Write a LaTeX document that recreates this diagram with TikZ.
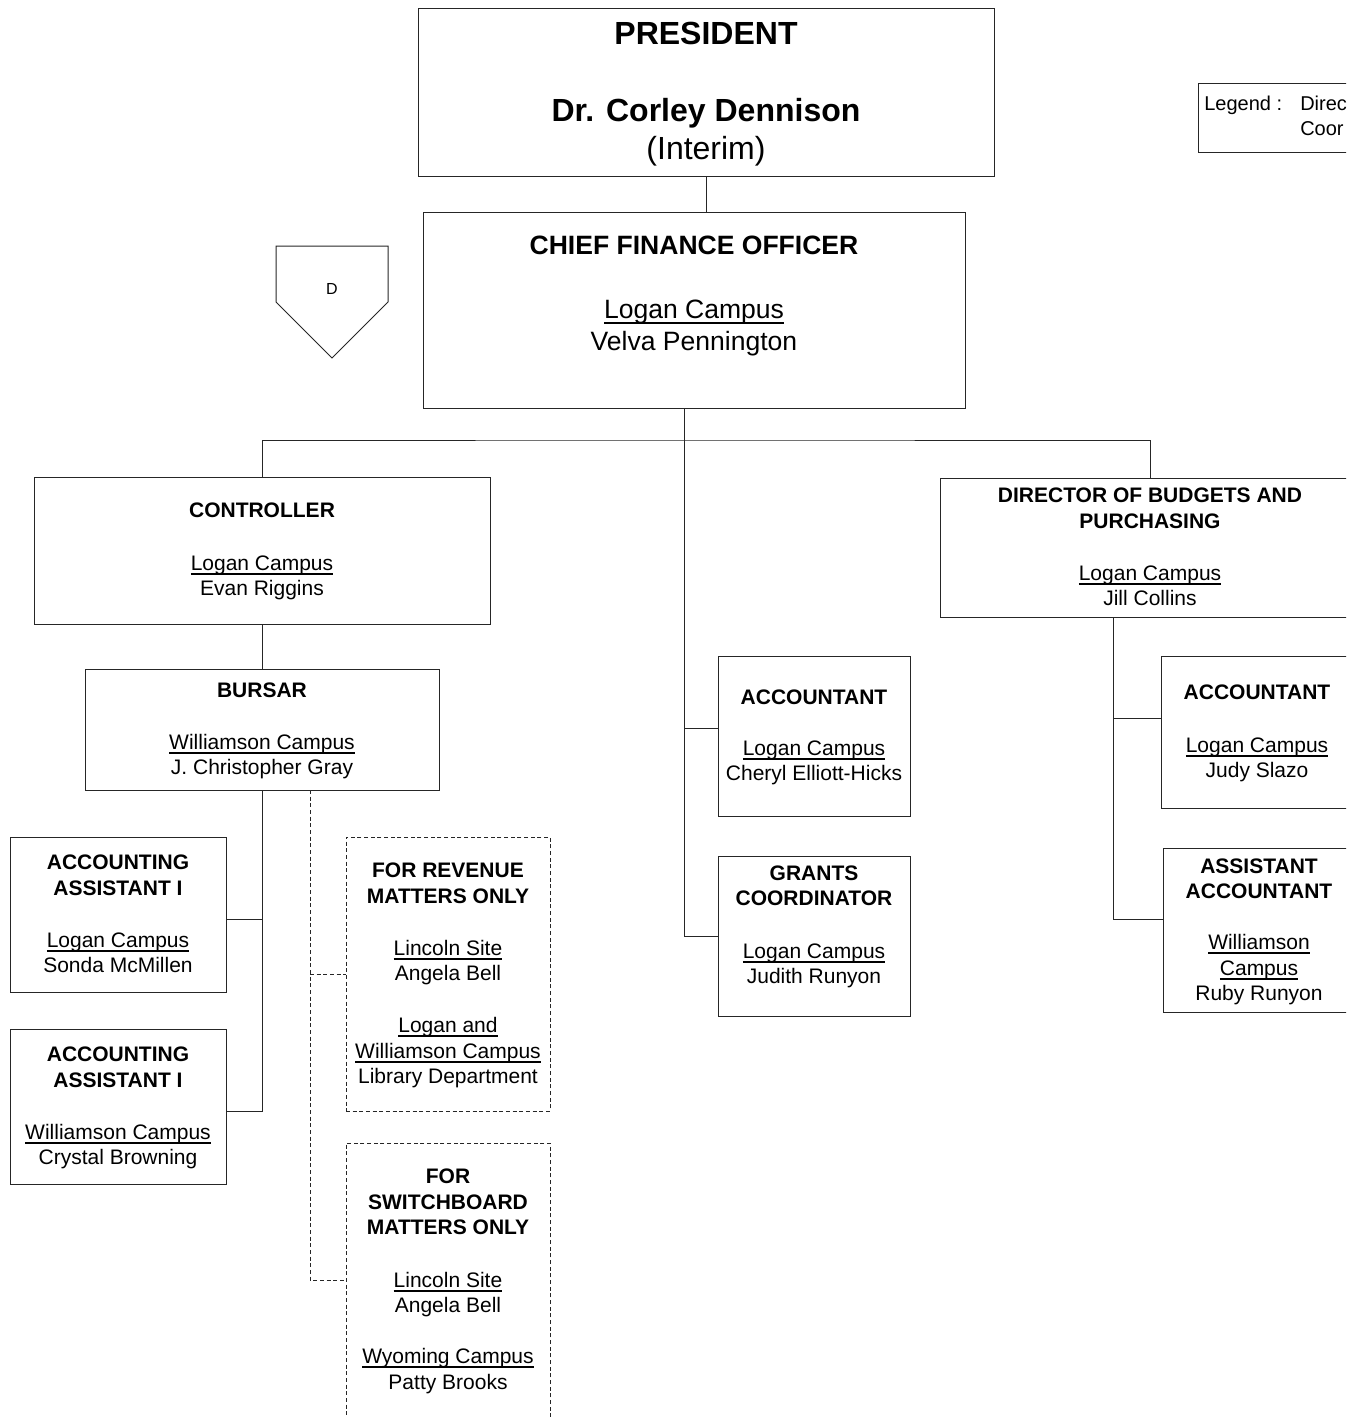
\documentclass[tikz,border=0pt]{standalone}
\usepackage{fontspec}
\setmainfont{Liberation Sans}
\newcommand\myul[1]{\setbox0\hbox{#1}\rlap{\rule[-0.19em]{\wd0}{0.065em}}\box0}
\begin{document}
\begin{tikzpicture}[x=0.75pt,y=-0.75pt,
  box/.style={draw=black!85, line width=0.75pt, inner sep=0pt, outer sep=0pt, rectangle},
  dbox/.style={box, dash pattern=on 3pt off 2pt},
  conn/.style={draw=black!85, line width=0.75pt},
  dconn/.style={conn, dash pattern=on 3pt off 2pt},
  tS/.style={inner sep=0pt, font=\fontsize{15.75}{18}\selectfont, text height=11.3pt, text depth=0pt},
  tSb/.style={tS, font=\fontsize{15.75}{18}\selectfont\bfseries},
  tM/.style={inner sep=0pt, font=\fontsize{19.9}{23}\selectfont, text height=14.3pt, text depth=0pt},
  tMb/.style={tM, font=\fontsize{19.9}{23}\selectfont\bfseries},
  tL/.style={inner sep=0pt, font=\fontsize{24}{28}\selectfont, text height=17.2pt, text depth=0pt},
  tLb/.style={tL, font=\fontsize{24}{28}\selectfont\bfseries},
  tLeg/.style={inner sep=0pt, font=\fontsize{15}{18}\selectfont, text height=10.8pt, text depth=0pt, anchor=west},
  tD/.style={inner sep=0pt, font=\fontsize{12}{14}\selectfont, text height=8.6pt, text depth=0pt}
]
\useasboundingbox (0,0) rectangle (1346,1417);
\clip (0,0) rectangle (1346,1417);

% ---------- boxes ----------
\node[box, minimum width=432pt, minimum height=126pt] (pres) at (706,92) {};
\node[box, minimum width=406.5pt, minimum height=147pt] (cfo) at (694,310) {};
\node[box, minimum width=342pt, minimum height=110.25pt] (ctl) at (262,550.5) {};
\node[box, minimum width=265.5pt, minimum height=90.75pt] (bur) at (262,729.5) {};
\node[box, minimum width=162pt, minimum height=116.25pt] (aa1) at (118,914.5) {};
\node[box, minimum width=162pt, minimum height=116.25pt] (aa2) at (118,1106.5) {};
\node[dbox, minimum width=153pt, minimum height=205.5pt] (rev) at (448,974) {};
\node[dbox, minimum width=153pt, minimum height=222.75pt] (sw) at (448,1291.5) {};
\node[box, minimum width=144pt, minimum height=120pt] (acc) at (814,736) {};
\node[box, minimum width=144pt, minimum height=120pt] (gr) at (814,936) {};
\node[box, minimum width=315pt, minimum height=104.25pt] (dir) at (1150,547.5) {};
\node[box, minimum width=144pt, minimum height=114pt] (acc2) at (1257,732) {};
\node[box, minimum width=144pt, minimum height=123pt] (asa) at (1259,930) {};
\node[box, minimum width=150pt, minimum height=51.75pt] (leg) at (1298,117.5) {};

% ---------- D marker ----------
\draw[conn] (276,246) -- (388,246) -- (388,302) -- (332,358) -- (276,302) -- cycle;
\node[tD] (dmark) at (332,289) {D};

% ---------- legend text ----------
\node[tLeg] (leg-a) at (1204,103) {Legend :};
\node[tLeg] (leg-b) at (1300,103) {Direc};
\node[tLeg] (leg-c) at (1300,128) {Coor};

% ---------- texts ----------
\node[tLb] (pres-a) at (706,33) {PRESIDENT};
\node[tLb] (pres-b) at (706,110) {Dr. Corley Dennison};
\node[tL]  (pres-c) at (706,148) {(Interim)};

\node[tMb] (cfo-a) at (694,245) {CHIEF FINANCE OFFICER};
\node[tM]  (cfo-b) at (694,309) {\myul{Logan Campus}};
\node[tM]  (cfo-c) at (694,341) {Velva Pennington};

\node[tSb] (ctl-a) at (262,510) {CONTROLLER};
\node[tS]  (ctl-b) at (262,563) {\myul{Logan Campus}};
\node[tS]  (ctl-c) at (262,588) {Evan Riggins};

\node[tSb] (bur-a) at (262,690) {BURSAR};
\node[tS]  (bur-b) at (262,742) {\myul{Williamson Campus}};
\node[tS]  (bur-c) at (262,767) {J. Christopher Gray};

\node[tSb] (aa1-a) at (118,862) {ACCOUNTING};
\node[tSb] (aa1-b) at (118,888) {ASSISTANT I};
\node[tS]  (aa1-c) at (118,940) {\myul{Logan Campus}};
\node[tS]  (aa1-d) at (118,965) {Sonda McMillen};

\node[tSb] (aa2-a) at (118,1054) {ACCOUNTING};
\node[tSb] (aa2-b) at (118,1080) {ASSISTANT I};
\node[tS]  (aa2-c) at (118,1132) {\myul{Williamson Campus}};
\node[tS]  (aa2-d) at (118,1157) {Crystal Browning};

\node[tSb] (rev-a) at (448,870) {FOR REVENUE};
\node[tSb] (rev-b) at (448,896) {MATTERS ONLY};
\node[tS]  (rev-c) at (448,948) {\myul{Lincoln Site}};
\node[tS]  (rev-d) at (448,973) {Angela Bell};
\node[tS]  (rev-e) at (448,1025) {\myul{Logan and}};
\node[tS]  (rev-f) at (448,1051) {\myul{Williamson Campus}};
\node[tS]  (rev-g) at (448,1076) {Library Department};

\node[tSb] (sw-a) at (448,1176) {FOR};
\node[tSb] (sw-b) at (448,1202) {SWITCHBOARD};
\node[tSb] (sw-c) at (448,1227) {MATTERS ONLY};
\node[tS]  (sw-d) at (448,1280) {\myul{Lincoln Site}};
\node[tS]  (sw-e) at (448,1305) {Angela Bell};
\node[tS]  (sw-f) at (448,1356) {\myul{Wyoming Campus}};
\node[tS]  (sw-g) at (448,1382) {Patty Brooks};

\node[tSb] (acc-a) at (814,697) {ACCOUNTANT};
\node[tS]  (acc-b) at (814,748) {\myul{Logan Campus}};
\node[tS]  (acc-c) at (814,773) {Cheryl Elliott-Hicks};

\node[tSb] (gr-a) at (814,873) {GRANTS};
\node[tSb] (gr-b) at (814,898) {COORDINATOR};
\node[tS]  (gr-c) at (814,951) {\myul{Logan Campus}};
\node[tS]  (gr-d) at (814,976) {Judith Runyon};

\node[tSb] (dir-a) at (1150,495) {DIRECTOR OF BUDGETS AND};
\node[tSb] (dir-b) at (1150,521) {PURCHASING};
\node[tS]  (dir-c) at (1150,573) {\myul{Logan Campus}};
\node[tS]  (dir-d) at (1150,598) {Jill Collins};

\node[tSb] (acc2-a) at (1257,692) {ACCOUNTANT};
\node[tS]  (acc2-b) at (1257,745) {\myul{Logan Campus}};
\node[tS]  (acc2-c) at (1257,770) {Judy Slazo};

\node[tSb] (asa-a) at (1259,866) {ASSISTANT};
\node[tSb] (asa-b) at (1259,891) {ACCOUNTANT};
\node[tS]  (asa-c) at (1259,942) {\myul{Williamson}};
\node[tS]  (asa-d) at (1259,968) {\myul{Campus}};
\node[tS]  (asa-e) at (1259,993) {Ruby Runyon};

% ---------- connectors ----------
\coordinate (jt) at (684,440);
\coordinate (ja) at (684,728);
\coordinate (jl1) at (262,919);
\coordinate (jl2) at (262,1111);
\coordinate (jd1) at (310,974);
\coordinate (jd2) at (310,1280);
\coordinate (jr1) at (1113,718);
\coordinate (jr2) at (1113,919);

\draw[conn] (pres.south) -- (cfo.north -| pres.south);
\draw[conn] (cfo.south -| jt) -- (jt);
\draw[conn] (ctl.north) |- (jt) -| (dir.north);
\draw[conn] (jt) -- (jt |- gr.west) -- (gr.west);
\draw[conn] (ja) -- (ja -| acc.west);
\draw[conn] (ctl.south) -- (bur.north);
\draw[conn] (bur.south) -- (jl2) -- (jl2 -| aa2.east);
\draw[conn] (jl1) -- (jl1 -| aa1.east);
\draw[dconn] (bur.south -| jd1) -- (jd2) -- (jd2 -| sw.west);
\draw[dconn] (jd1) -- (rev.west);
\draw[conn] (dir.south -| jr1) -- (jr2) -- (jr2 -| asa.west);
\draw[conn] (jr1) -- (jr1 -| acc2.west);
\end{tikzpicture}
\end{document}
